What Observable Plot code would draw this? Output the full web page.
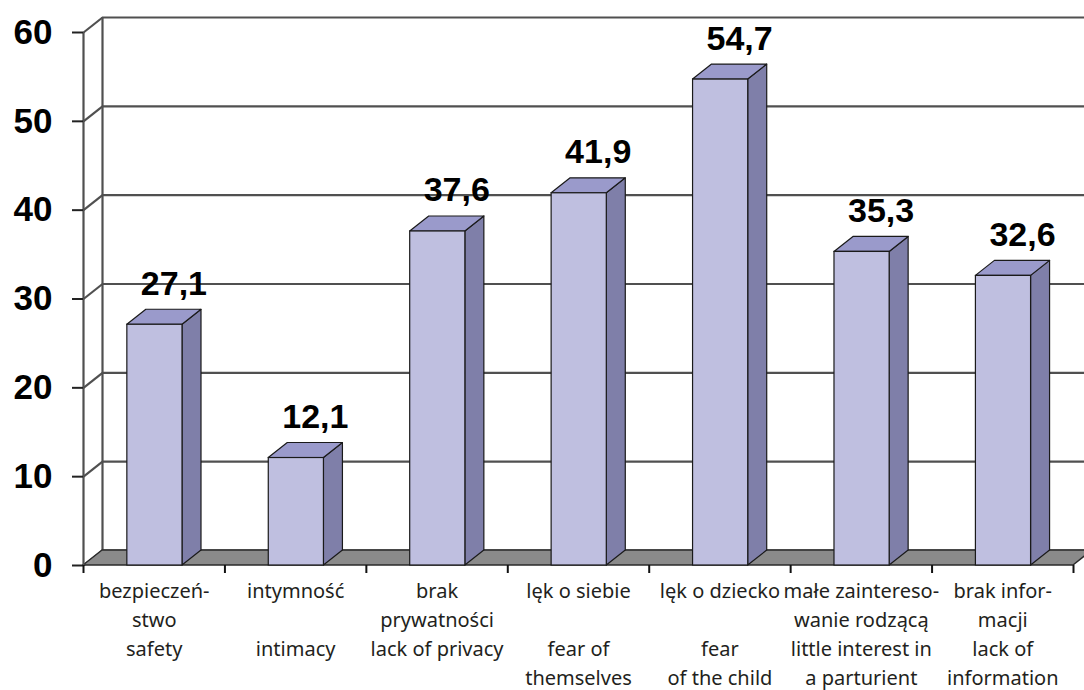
<!DOCTYPE html>
<html>
<head>
<meta charset="utf-8">
<script src="https://cdn.jsdelivr.net/npm/d3@7"></script>
<script src="https://cdn.jsdelivr.net/npm/@observablehq/plot@0.6"></script>
<style>
  html, body { margin: 0; padding: 0; background: #fff; }
  #chart svg { display: block; }
</style>
</head>
<body>
<div id="chart"></div>
<script>
// Percent of respondents per concern
const values = [27.1, 12.1, 37.6, 41.9, 54.7, 35.3, 32.6];

// Category labels, Polish (two lines) then English (two lines)
const labelLine1 = ["bezpieczeń-", "intymność", "brak", "lęk o siebie", "lęk o dziecko", "małe zaintereso-", "brak infor-"];
const labelLine2 = ["stwo", "", "prywatności", "", "", "wanie rodzącą", "macji"];
const labelLine3 = ["safety", "intimacy", "lack of privacy", "fear of", "fear", "little interest in", "lack of"];
const labelLine4 = ["", "", "", "themselves", "of the child", "a parturient", "information"];

const yTicks = [0, 10, 20, 30, 40, 50, 60];

// Frame geometry
const W = 1084, H = 690;
const mL = 83, mR = 11, mT = 32, mB = 125;
const n = values.length;

// Depth of the pseudo-3D box, in pixels, converted to data units
const DX = 19, DY = 15;
const pxPerX = (W - mL - mR) / n;
const pxPerY = (H - mT - mB) / 60;
const depthX = DX / pxPerX;
const depthY = DY / pxPerY;

// Bar footprint inside each category slot
const b0 = 0.31, b1 = 0.70;

const idx = d3.range(n);
const bars = idx.map(i => ({i, v: values[i]}));

const sideFaces = bars.flatMap(({i, v}) => [
  {i, x: i + b1, y1: 0, y2: v},
  {i, x: i + b1 + depthX, y1: depthY, y2: v + depthY}
]);
const topFaces = bars.flatMap(({i, v}) => [
  {i, y: v, x1: i + b0, x2: i + b1},
  {i, y: v + depthY, x1: i + b0 + depthX, x2: i + b1 + depthX}
]);
const floor = [
  {y: 0, x1: 0, x2: n},
  {y: depthY, x1: depthX, x2: n + depthX}
];

const fmt = v => v.toFixed(1).replace(".", ",");

const gridColor = "#505050";
const edge = "#1a1a1a";
const catFont = "Noto Sans";
const numFont = "Liberation Sans";

const catLine = (lines, k) => Plot.text(idx, {
  x: i => i + 0.5,
  y: () => 0,
  text: i => lines[i],
  lineAnchor: "bottom",
  dy: 32 + 29 * k,
  fontSize: 20,
  fontFamily: catFont,
  fill: "#231f20"
});

const chart = Plot.plot({
  width: W,
  height: H,
  marginLeft: mL,
  marginRight: mR,
  marginTop: mT,
  marginBottom: mB,
  x: {type: "linear", domain: [0, n]},
  y: {domain: [0, 60]},
  style: {background: "#fff", overflow: "hidden"},
  marks: [
    // back wall gridlines
    Plot.ruleY(yTicks, {x1: 0, x2: n, dx: DX, dy: -DY, stroke: gridColor, strokeWidth: 2.2}),
    // back wall left edge
    Plot.ruleX([0], {y1: 0, y2: 60, dx: DX, dy: -DY, stroke: gridColor, strokeWidth: 2.2}),
    // side wall: diagonals from the front axis to the back wall
    Plot.link(yTicks, {x1: 0, x2: depthX, y1: d => d, y2: d => d + depthY, stroke: gridColor, strokeWidth: 2.2}),
    // floor
    Plot.areaX(floor, {y: "y", x1: "x1", x2: "x2", fill: "#8a8a8a", stroke: "#2a2a2a", strokeWidth: 1.5}),
    // front vertical axis line
    Plot.ruleX([0], {y1: 0, y2: 60, stroke: gridColor, strokeWidth: 2.2}),
    Plot.axisY(yTicks, {
      tickSize: 11, tickPadding: 20, label: null,
      stroke: "#222", strokeWidth: 2,
      fontSize: 35, fontWeight: "bold", fontFamily: numFont, fill: "#000"
    }),
    Plot.axisX(d3.range(n + 1), {
      tickSize: 8, tickFormat: () => "", label: null, stroke: "#111", strokeWidth: 2
    }),
    // bars: side, top, front
    Plot.areaY(sideFaces, {x: "x", y1: "y1", y2: "y2", z: "i", fill: "#7f7fa9", stroke: edge, strokeWidth: 1.2}),
    Plot.areaX(topFaces, {y: "y", x1: "x1", x2: "x2", z: "i", fill: "#9a9acb", stroke: edge, strokeWidth: 1.2}),
    Plot.rect(bars, {x1: d => d.i + b0, x2: d => d.i + b1, y1: 0, y2: "v", fill: "#bfbfe0", stroke: edge, strokeWidth: 1.2}),
    // value labels
    Plot.text(bars, {
      x: d => d.i + (b0 + b1) / 2 + depthX,
      y: d => d.v + depthY,
      text: d => fmt(d.v),
      lineAnchor: "bottom",
      dy: -15,
      fontSize: 34, fontWeight: "bold", fontFamily: numFont, fill: "#000"
    }),
    // category labels
    catLine(labelLine1, 0),
    catLine(labelLine2, 1),
    catLine(labelLine3, 2),
    catLine(labelLine4, 3)
  ]
});

document.getElementById("chart").append(chart);
</script>
</body>
</html>
